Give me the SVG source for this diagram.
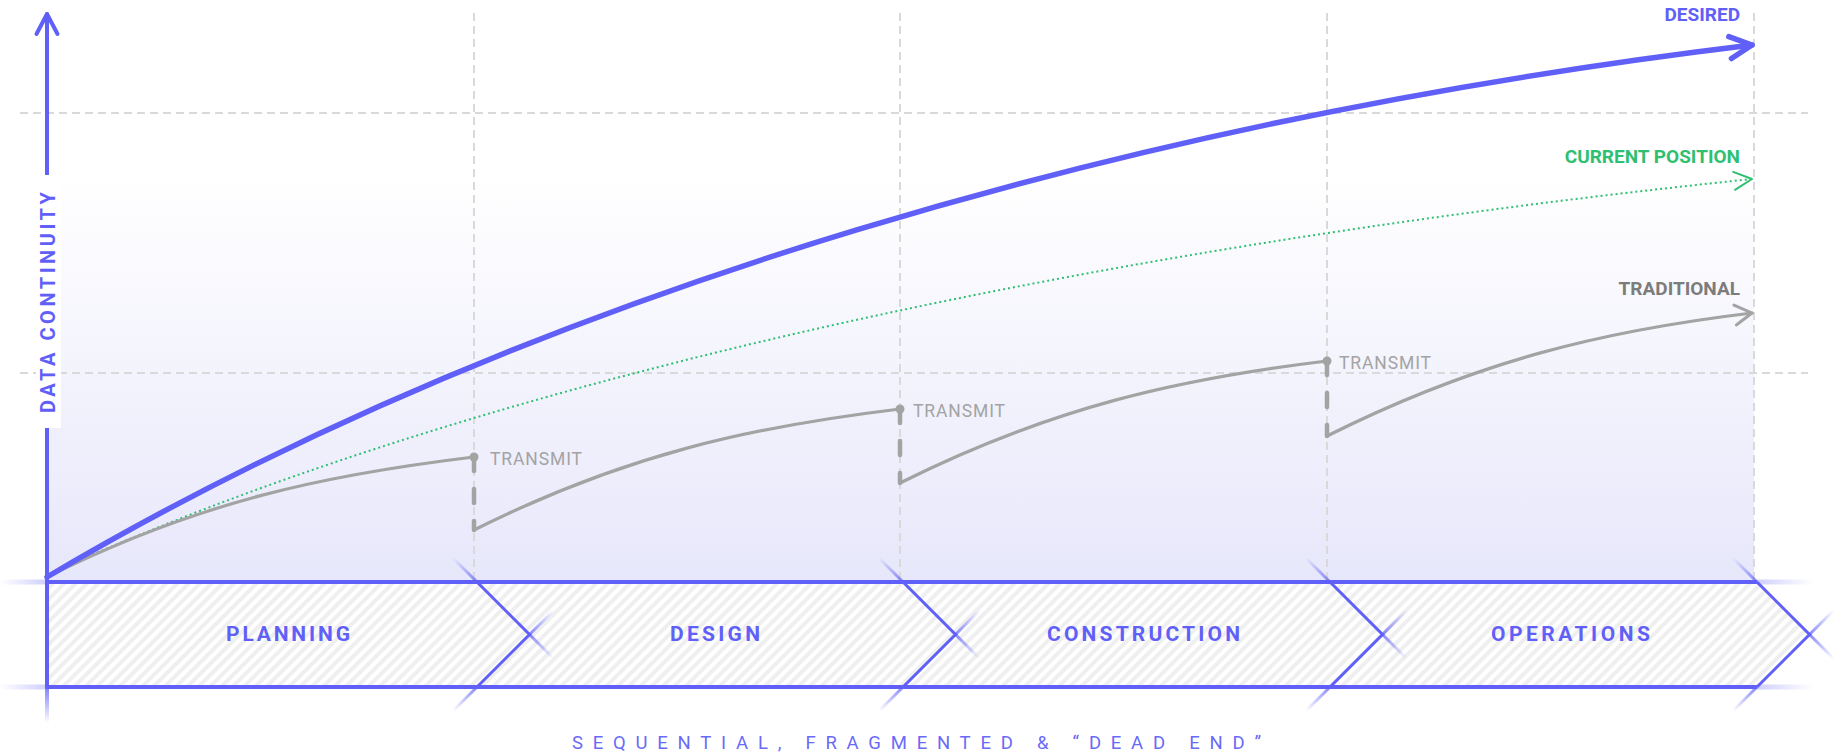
<svg xmlns="http://www.w3.org/2000/svg" width="1841" height="756" viewBox="0 0 1841 756">
<style>
.grid{stroke:#d9d9d9;stroke-width:2;stroke-dasharray:8 5;fill:none}
.axis{stroke:#6060f8;stroke-width:4;fill:none;stroke-linecap:round}
.band-edge{stroke:#6060f8;stroke-width:4;fill:none}
.chevron{stroke:#6060f8;stroke-width:3;fill:none;stroke-linejoin:miter}
.desired{stroke:#6060f8;stroke-width:5.5;fill:none;stroke-linecap:round}
.current{stroke:#2fbf71;stroke-width:2;fill:none;stroke-dasharray:2 3}
.trad{stroke:#a3a3a3;stroke-width:3.2;fill:none;stroke-linecap:round}
.trad-drop{stroke:#a3a3a3;stroke-width:4.5;fill:none;stroke-linecap:round;stroke-dasharray:14 18}
.dot{fill:#a3a3a3}
.transmit{font-family:Roboto,"Liberation Sans",sans-serif;font-size:17.5px;fill:#a3a3a3}
.series{font-family:Roboto,"Liberation Sans",sans-serif;font-size:19px;font-weight:700}
.phase{font-family:Roboto,"Liberation Sans",sans-serif;font-size:21px;font-weight:700;fill:#6060f8}
.ylabel{font-family:Roboto,"Liberation Sans",sans-serif;font-size:20px;font-weight:700;fill:#6060f8}
.caption{font-family:Roboto,"Liberation Sans",sans-serif;font-size:18.5px;font-weight:400;fill:#6a6af8}
</style>
<defs>
<linearGradient id="bgGrad" x1="0" y1="0" x2="0" y2="1">
<stop offset="0" stop-color="#ffffff"/>
<stop offset="0.3" stop-color="#ffffff"/>
<stop offset="1" stop-color="#e7e7fb"/>
</linearGradient>
<linearGradient id="fadeOut" x1="0" y1="0" x2="1" y2="0">
<stop offset="0" stop-color="#6060f8" stop-opacity="0.75"/>
<stop offset="1" stop-color="#6060f8" stop-opacity="0"/>
</linearGradient>
<linearGradient id="fadeLeft" x1="0" y1="0" x2="1" y2="0">
<stop offset="0" stop-color="#6060f8" stop-opacity="0"/>
<stop offset="1" stop-color="#6060f8" stop-opacity="0.3"/>
</linearGradient>
<linearGradient id="fadeRight" x1="0" y1="0" x2="1" y2="0">
<stop offset="0" stop-color="#6060f8" stop-opacity="0.3"/>
<stop offset="1" stop-color="#6060f8" stop-opacity="0"/>
</linearGradient>
<linearGradient id="fadeDown" x1="0" y1="0" x2="0" y2="1">
<stop offset="0" stop-color="#6060f8" stop-opacity="0.8"/>
<stop offset="1" stop-color="#6060f8" stop-opacity="0"/>
</linearGradient>
<pattern id="hatch" patternUnits="userSpaceOnUse" width="8" height="8" patternTransform="rotate(45)">
<rect x="0" y="0" width="8" height="8" fill="#ffffff"/>
<rect x="0" y="0" width="4" height="8" fill="#efefef"/>
</pattern>
<rect id="ext" x="0" y="-1.5" width="34" height="3" fill="url(#fadeOut)"/>
<marker id="arrowAxis" markerUnits="userSpaceOnUse" orient="auto" markerWidth="40" markerHeight="40" refX="0" refY="0" overflow="visible">
<path d="M-20,-10.5 L0,0 L-20,10.5" fill="none" stroke="#6060f8" stroke-width="4" stroke-linecap="round" stroke-linejoin="round"/>
</marker>
<marker id="arrowDesired" markerUnits="userSpaceOnUse" orient="auto" markerWidth="40" markerHeight="40" refX="0" refY="0" overflow="visible">
<path d="M-22,-11 L0,0 L-22,11" fill="none" stroke="#6060f8" stroke-width="5.5" stroke-linecap="round" stroke-linejoin="round"/>
</marker>
<marker id="arrowCurrent" markerUnits="userSpaceOnUse" orient="auto" markerWidth="40" markerHeight="40" refX="0" refY="0" overflow="visible">
<path d="M-18,-9 L0,0 L-18,9" fill="none" stroke="#2fbf71" stroke-width="2" stroke-linecap="round" stroke-linejoin="round"/>
</marker>
<marker id="arrowTrad" markerUnits="userSpaceOnUse" orient="auto" markerWidth="40" markerHeight="40" refX="0" refY="0" overflow="visible">
<path d="M-17,-10 L0,0 L-17,10" fill="none" stroke="#a3a3a3" stroke-width="3" stroke-linecap="round" stroke-linejoin="round"/>
</marker>
</defs>

<g id="chart-background">
<rect x="47" y="0" width="1707" height="582" fill="url(#bgGrad)"/>
</g>

<g id="grid">
<line class="grid" x1="20" y1="113" x2="1808" y2="113"/>
<line class="grid" x1="20" y1="373" x2="1808" y2="373"/>
<line class="grid" x1="474" y1="13" x2="474" y2="582"/>
<line class="grid" x1="900" y1="13" x2="900" y2="582"/>
<line class="grid" x1="1327" y1="13" x2="1327" y2="582"/>
<line class="grid" x1="1754" y1="13" x2="1754" y2="582"/>
</g>

<g id="phase-band">
<polygon points="47,582 1757,582 1809.5,634.5 1757,687 47,687" fill="url(#hatch)"/>
<rect x="0" y="579.5" width="47" height="5" fill="url(#fadeLeft)"/>
<rect x="0" y="684.5" width="47" height="5" fill="url(#fadeLeft)"/>
<rect x="1757" y="579.5" width="56" height="5" fill="url(#fadeRight)"/>
<rect x="1757" y="684.5" width="56" height="5" fill="url(#fadeRight)"/>
<rect x="45" y="687" width="4" height="36" fill="url(#fadeDown)"/>
<line class="band-edge" x1="47" y1="582" x2="1757" y2="582"/>
<line class="band-edge" x1="47" y1="687" x2="1757" y2="687"/>
<path class="chevron" d="M477,582 L529.5,634.5 L477,687"/>
<path class="chevron" d="M903,582 L955.5,634.5 L903,687"/>
<path class="chevron" d="M1330,582 L1382.5,634.5 L1330,687"/>
<path class="chevron" d="M1757,582 L1809.5,634.5 L1757,687" stroke-width="4"/>
<use href="#ext" transform="translate(477,582) rotate(-135)"/>
<use href="#ext" transform="translate(477,687) rotate(135)"/>
<use href="#ext" transform="translate(529.5,634.5) rotate(-45)"/>
<use href="#ext" transform="translate(529.5,634.5) rotate(45)"/>
<use href="#ext" transform="translate(903,582) rotate(-135)"/>
<use href="#ext" transform="translate(903,687) rotate(135)"/>
<use href="#ext" transform="translate(955.5,634.5) rotate(-45)"/>
<use href="#ext" transform="translate(955.5,634.5) rotate(45)"/>
<use href="#ext" transform="translate(1330,582) rotate(-135)"/>
<use href="#ext" transform="translate(1330,687) rotate(135)"/>
<use href="#ext" transform="translate(1382.5,634.5) rotate(-45)"/>
<use href="#ext" transform="translate(1382.5,634.5) rotate(45)"/>
<use href="#ext" transform="translate(1757,582) rotate(-135)"/>
<use href="#ext" transform="translate(1757,687) rotate(135)"/>
<use href="#ext" transform="translate(1809.5,634.5) rotate(-45)"/>
<use href="#ext" transform="translate(1809.5,634.5) rotate(45)"/>
</g>

<g id="phase-planning"><text class="phase" x="226" y="641" textLength="124" lengthAdjust="spacing">PLANNING</text></g>
<g id="phase-design"><text class="phase" x="670" y="641" textLength="90" lengthAdjust="spacing">DESIGN</text></g>
<g id="phase-construction"><text class="phase" x="1047" y="641" textLength="193" lengthAdjust="spacing">CONSTRUCTION</text></g>
<g id="phase-operations"><text class="phase" x="1491" y="641" textLength="159" lengthAdjust="spacing">OPERATIONS</text></g>

<g id="y-axis">
<path class="axis" d="M47,687 L47,14" marker-end="url(#arrowAxis)"/>
<rect x="36" y="175" width="25" height="253" fill="#ffffff"/>
<text class="ylabel" transform="translate(54.5,413) rotate(-90)" x="0" y="0" textLength="221" lengthAdjust="spacing">DATA CONTINUITY</text>
</g>

<g id="connectors">
<path id="curve-current" class="current" d="M47,575 C447,392 1050,252 1752,179" marker-end="url(#arrowCurrent)"/>
<path id="trad-seg1" class="trad" d="M47,577 C197,502 324,475 474,457"/>
<path id="trad-drop1" class="trad-drop" d="M474,457 L474,530"/>
<path id="trad-seg2" class="trad" d="M474,530 C624,455 750,427 900,409"/>
<path id="trad-drop2" class="trad-drop" d="M900,409 L900,483"/>
<path id="trad-seg3" class="trad" d="M900,483 C1050,408 1177,379 1327,361"/>
<path id="trad-drop3" class="trad-drop" d="M1327,361 L1327,436"/>
<path id="trad-seg4" class="trad" d="M1327,436 C1477,361 1602,331 1752,313" marker-end="url(#arrowTrad)"/>
<path id="curve-desired" class="desired" d="M47,577 C535,288 1152,117 1752,45" marker-end="url(#arrowDesired)"/>
</g>

<g id="transmit-1">
<circle class="dot" cx="474" cy="457" r="4.5"/>
<text class="transmit" x="490" y="465" textLength="92" lengthAdjust="spacing">TRANSMIT</text>
</g>
<g id="transmit-2">
<circle class="dot" cx="900" cy="409" r="4.5"/>
<text class="transmit" x="913" y="417" textLength="92" lengthAdjust="spacing">TRANSMIT</text>
</g>
<g id="transmit-3">
<circle class="dot" cx="1327" cy="361" r="4.5"/>
<text class="transmit" x="1339" y="369" textLength="92" lengthAdjust="spacing">TRANSMIT</text>
</g>

<g id="label-desired"><text class="series" x="1740" y="21" text-anchor="end" fill="#6060f8">DESIRED</text></g>
<g id="label-current"><text class="series" x="1740" y="163" text-anchor="end" fill="#2fbf71">CURRENT POSITION</text></g>
<g id="label-traditional"><text class="series" x="1740" y="295" text-anchor="end" fill="#7c7c7c">TRADITIONAL</text></g>

<g id="caption">
<text class="caption" x="572" y="749" textLength="689" lengthAdjust="spacing">SEQUENTIAL, FRAGMENTED &amp; “DEAD END”</text>
</g>
</svg>
